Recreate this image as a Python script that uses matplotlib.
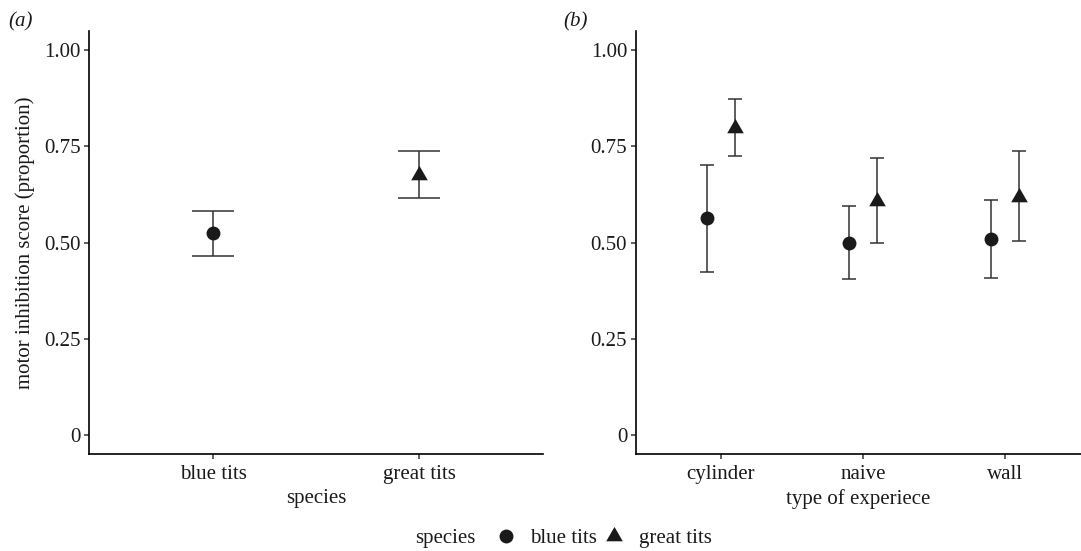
import matplotlib
matplotlib.use('Agg')
import matplotlib.pyplot as plt
from matplotlib.path import Path
from matplotlib.lines import Line2D
import numpy as np

# ---------------- data ----------------
species = ['blue tits', 'great tits']
sp_mean = [0.524, 0.676]
sp_lo = [0.465, 0.615]
sp_hi = [0.583, 0.737]

experience = ['cylinder', 'naive', 'wall']
blue_mean = [0.564, 0.500, 0.509]
blue_lo = [0.424, 0.405, 0.407]
blue_hi = [0.702, 0.594, 0.612]
great_mean = [0.799, 0.607, 0.619]
great_lo = [0.726, 0.499, 0.504]
great_hi = [0.873, 0.719, 0.737]

yticks = [0, 0.25, 0.5, 0.75, 1.0]
ytick_labels = ['0', '0.25', '0.50', '0.75', '1.00']

# ---------------- style ----------------
plt.rcParams['font.family'] = ['Liberation Serif', 'DejaVu Serif']
FS = 15
INK = '#1a1a1a'
BAR = '#333333'
tri = Path([(0, 1), (-0.866, -0.5), (0.866, -0.5), (0, 1)],
           [Path.MOVETO, Path.LINETO, Path.LINETO, Path.CLOSEPOLY])
MS_C = 10
MS_T = 13.8

W, H = 1081, 551
fig = plt.figure(figsize=(W / 100, H / 100), dpi=100)


def px_axes(x0, x1, ytop, ybot):
    return fig.add_axes([x0 / W, 1 - ybot / H, (x1 - x0) / W, (ybot - ytop) / H])


def style(ax):
    for s in ['top', 'right']:
        ax.spines[s].set_visible(False)
    for s in ['left', 'bottom']:
        ax.spines[s].set_linewidth(1.2)
        ax.spines[s].set_color('black')
    ax.tick_params(direction='out', length=3.4, width=1.1, color=BAR,
                   labelsize=FS, labelcolor=INK, pad=2.6)
    ax.tick_params(axis='x', pad=4)
    ax.set_ylim(-0.05, 1.05)
    ax.set_yticks(yticks)
    ax.set_yticklabels(ytick_labels)


def draw(ax, x, mean, lo, hi, marker, ms, cap):
    mean = np.asarray(mean); lo = np.asarray(lo); hi = np.asarray(hi)
    ax.errorbar(x, mean, yerr=[mean - lo, hi - mean], fmt='none',
                ecolor=BAR, elinewidth=1.1, capsize=cap, capthick=1.1, zorder=2)
    ax.plot(x, mean, linestyle='none', marker=marker, ms=ms,
            color=INK, markeredgewidth=0, zorder=3)


# ---------------- panel (a) ----------------
axa = px_axes(89.3, 543, 31, 454.3)
style(axa)
xa = np.arange(1, len(species) + 1)
axa.set_xlim(0.4, len(species) + 0.6)
axa.set_xticks(xa)
axa.set_xticklabels(species)
draw(axa, xa[:1], sp_mean[:1], sp_lo[:1], sp_hi[:1], 'o', MS_C, 14.8)
draw(axa, xa[1:], sp_mean[1:], sp_lo[1:], sp_hi[1:], tri, MS_T, 14.8)
axa.set_xlabel('species', fontsize=FS, color=INK, labelpad=4)
axa.set_ylabel('motor inhibition score (proportion)', fontsize=FS, color=INK, labelpad=7)

# ---------------- panel (b) ----------------
axb = px_axes(635.5, 1081, 31, 454.3)
style(axb)
xb = np.arange(1, len(experience) + 1)
axb.set_xlim(0.4, 0.4 + 445.5 / 142.15)
axb.set_xticks(xb)
axb.set_xticklabels(experience)
draw(axb, xb - 0.1, blue_mean, blue_lo, blue_hi, 'o', MS_C, 5)
draw(axb, xb + 0.1, great_mean, great_lo, great_hi, tri, MS_T, 5)
axb.set_xlabel('type of experiece', fontsize=FS, color=INK, labelpad=4)

# panel tags
fig.text(8 / W, 1 - 22 / H, '(a)', fontsize=FS, style='italic', color=INK, va='center', ha='left')
fig.text(563 / W, 1 - 22 / H, '(b)', fontsize=FS, style='italic', color=INK, va='center', ha='left')

# ---------------- legend ----------------
fig.text(415 / W, 1 - 538 / H, 'species', fontsize=FS, color=INK, va='center', ha='left')
handles = [Line2D([], [], linestyle='none', marker='o', ms=MS_C, color=INK, markeredgewidth=0),
           Line2D([], [], linestyle='none', marker=tri, ms=MS_T, color=INK, markeredgewidth=0)]
fig.legend(handles, species, ncol=2, loc='center left',
           bbox_to_anchor=(497.2 / W, 1 - 538 / H), frameon=False, fontsize=FS,
           handlelength=0.8, handletextpad=0.78, columnspacing=0.44,
           borderpad=0, borderaxespad=0, labelcolor=INK)

fig.savefig('out.png', dpi=100)
